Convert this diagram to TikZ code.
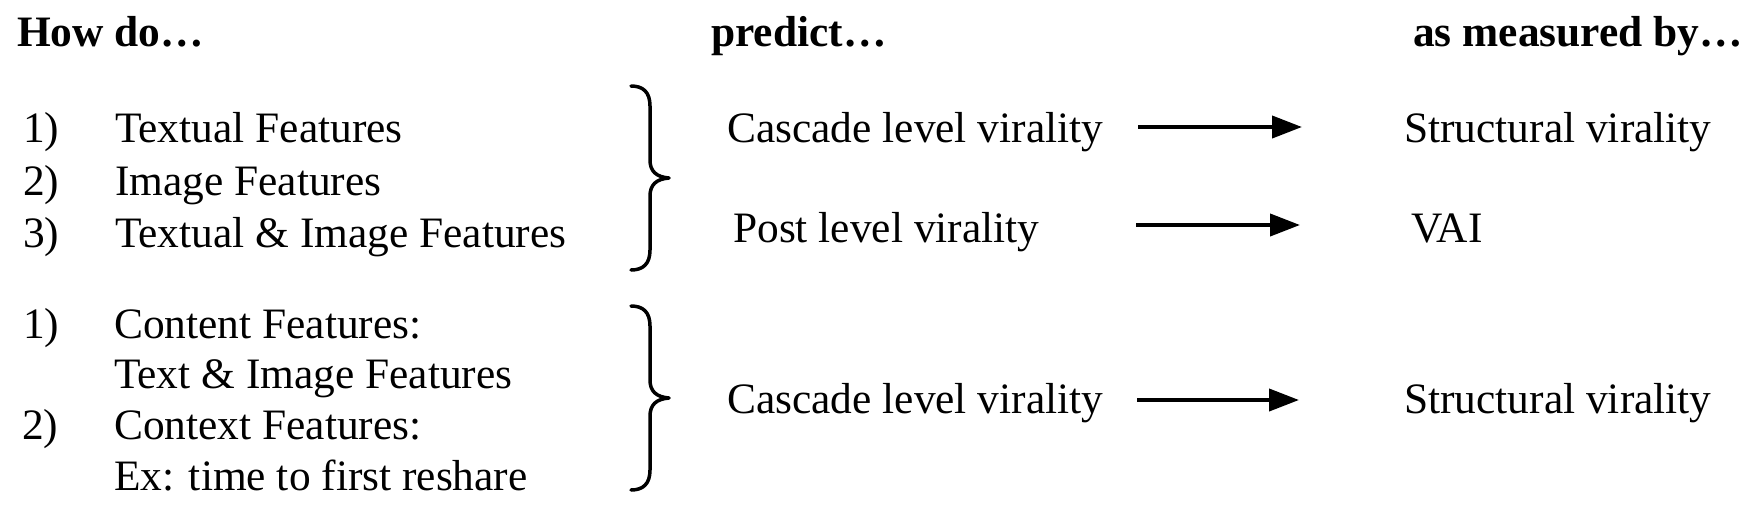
\documentclass[tikz,border=0pt]{standalone}
\usepackage{fontspec}
\setmainfont{LiberationSerif}[Extension=.ttf, UprightFont=*-Regular, BoldFont=*-Bold, ItalicFont=*-Italic, BoldItalicFont=*-BoldItalic]
\usetikzlibrary{arrows.meta}
\begin{document}
\begin{tikzpicture}[x=1pt,y=-1pt,
  txt/.style={anchor=base west, inner sep=0pt, font=\fontsize{43.4}{52}\selectfont},
  hdr/.style={anchor=base west, inner sep=0pt, font=\fontsize{43.4}{52}\selectfont\bfseries},
  arr/.style={line width=4pt, -{Triangle[length=30pt,width=22pt]}},
  brc/.style={line width=3.5pt, line cap=round, line join=round}]
\fill[white] (0,0) rectangle (1756,512);
\useasboundingbox (0,0) rectangle (1756,512);

% headings
\node[hdr] (h1) at (17,46) {How do…};
\node[hdr] (h2) at (711,46) {predict…};
\node[hdr] (h3) at (1413,46) {as measured by…};

% group 1
\node[txt] (n1) at (23,142) {1)};
\node[txt] (t1) at (115,142) {Textual Features};
\node[txt] (n2) at (23,195) {2)};
\node[txt] (t2) at (115,195) {Image Features};
\node[txt] (n3) at (23,247) {3)};
\node[txt] (t3) at (115,247) {Textual \& Image Features};

% group 2
\node[txt] (m1) at (23,338) {1)};
\node[txt] (u1) at (114,338) {Content Features:};
\node[txt] (u2) at (114,388) {Text \& Image Features};
\node[txt] (m2) at (22,439) {2)};
\node[txt] (u3) at (114,439) {Context Features:};
\node[txt] (u4) at (114,490) {Ex: time to first reshare};

% braces
\draw[brc] (631,86) .. controls (643,86) and (650,92) .. (650,106) -- (650,160)
  .. controls (650,171) and (656,177) .. (669,178)
  .. controls (656,179) and (650,185) .. (650,196) -- (650,250)
  .. controls (650,264) and (643,270) .. (631,270);
\draw[brc] (631,306) .. controls (643,306) and (650,312) .. (650,326) -- (650,380)
  .. controls (650,391) and (656,397) .. (669,398)
  .. controls (656,399) and (650,405) .. (650,416) -- (650,470)
  .. controls (650,484) and (643,490) .. (631,490);

% predict column
\node[txt] (p1) at (727,142) {Cascade level virality};
\node[txt] (p2) at (733,242) {Post level virality};
\node[txt] (p3) at (727,413) {Cascade level virality};

% measure column
\node[txt] (r1) at (1404,142) {Structural virality};
\node[txt] (r2) at (1411,242) {VAI};
\node[txt] (r3) at (1404,413) {Structural virality};

% arrows
\coordinate (a1s) at (1138,127);
\coordinate (a1e) at (1302,127);
\coordinate (a2s) at (1136,225);
\coordinate (a2e) at (1300,225);
\coordinate (a3s) at (1137,400);
\coordinate (a3e) at (1299,400);
\draw[arr] (a1s) -- (a1e);
\draw[arr] (a2s) -- (a2e);
\draw[arr] (a3s) -- (a3e);
\end{tikzpicture}
\end{document}
